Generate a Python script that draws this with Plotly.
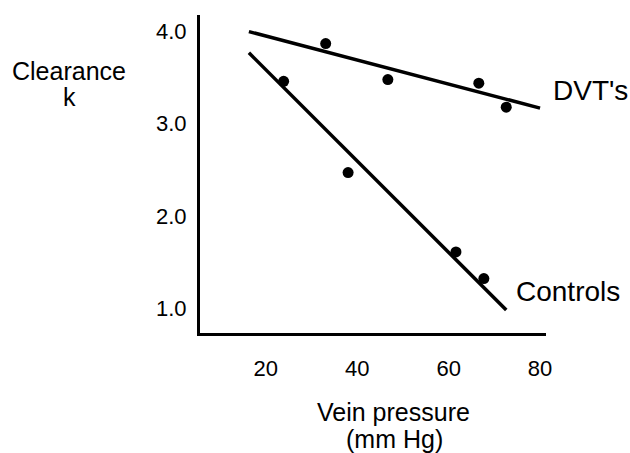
import plotly.graph_objects as go

# Data
dvt_x = [33.1, 46.7, 66.6, 72.6]
dvt_y = [3.87, 3.48, 3.44, 3.18]
ctrl_x = [23.9, 38.0, 61.6, 67.7]
ctrl_y = [3.46, 2.47, 1.61, 1.32]

dvt_fit_x = [16.3, 80.0]
dvt_fit_y = [4.00, 3.17]
ctrl_fit_x = [16.3, 72.6]
ctrl_fit_y = [3.77, 0.98]

x_ticks = [20, 40, 60, 80]
y_ticks = [1.0, 2.0, 3.0, 4.0]
y_tick_labels = ["1.0", "2.0", "3.0", "4.0"]

FONT = "Arial, 'Liberation Sans', Helvetica, sans-serif"

fig = go.Figure()
for fx, fy in [(dvt_fit_x, dvt_fit_y), (ctrl_fit_x, ctrl_fit_y)]:
    fig.add_trace(go.Scatter(x=fx, y=fy, mode="lines",
                             line=dict(color="black", width=3.5),
                             hoverinfo="skip", showlegend=False))
for px, py in [(dvt_x, dvt_y), (ctrl_x, ctrl_y)]:
    fig.add_trace(go.Scatter(x=px, y=py, mode="markers",
                             marker=dict(color="black", size=11),
                             showlegend=False))

L, R, T, B = 200, 84, 15, 120
W, H = 630, 453
pw, ph = W - L - R, H - T - B

def px_to_paper_x(p):
    return (p - L) / pw

def py_to_paper_y(p):
    return (H - B - p) / ph

annos = [
    dict(text="DVT's", x=px_to_paper_x(551), y=py_to_paper_y(91), xanchor="left", yanchor="middle", size=28),
    dict(text="Controls", x=px_to_paper_x(514), y=py_to_paper_y(291), xanchor="left", yanchor="middle", size=28),
    dict(text="Clearance", x=px_to_paper_x(69), y=py_to_paper_y(71), xanchor="center", yanchor="middle", size=25),
    dict(text="k", x=px_to_paper_x(69), y=py_to_paper_y(97), xanchor="center", yanchor="middle", size=25),
    dict(text="Vein pressure", x=px_to_paper_x(393), y=py_to_paper_y(412), xanchor="center", yanchor="middle", size=25),
    dict(text="(mm Hg)", x=px_to_paper_x(394), y=py_to_paper_y(439), xanchor="center", yanchor="middle", size=25),
]
for a in annos:
    fig.add_annotation(text=a["text"], x=a["x"], y=a["y"], xref="paper", yref="paper",
                       xanchor=a["xanchor"], yanchor=a["yanchor"], showarrow=False,
                       font=dict(family=FONT, size=a["size"], color="black"))

fig.update_layout(
    width=W, height=H,
    margin=dict(l=L, r=R, t=T, b=B, pad=0),
    paper_bgcolor="white", plot_bgcolor="white",
    font=dict(family=FONT, color="black"),
    showlegend=False,
)
fig.update_xaxes(range=[5.6, 81.3], tickvals=x_ticks, ticktext=[str(v) for v in x_ticks],
                 showline=True, linecolor="black", linewidth=3, mirror=False,
                 showgrid=False, zeroline=False, ticks="", ticklabelstandoff=14,
                 tickfont=dict(size=22, family=FONT, color="black"))
fig.update_yaxes(range=[0.73, 4.18], tickvals=y_ticks, ticktext=y_tick_labels,
                 showline=True, linecolor="black", linewidth=3, mirror=False,
                 showgrid=False, zeroline=False, ticks="", ticklabelstandoff=6,
                 tickfont=dict(size=22, family=FONT, color="black"))

fig.write_html("out.html")
